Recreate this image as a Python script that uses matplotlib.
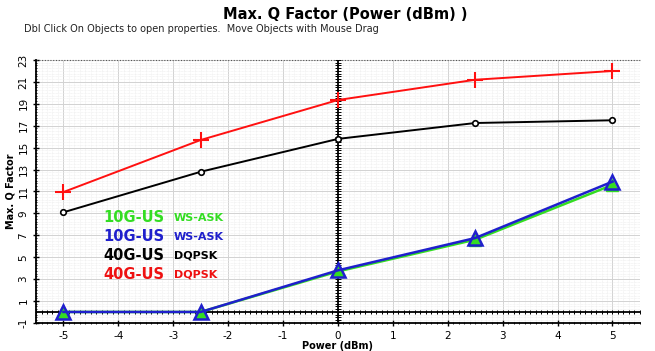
import numpy as np
import matplotlib.pyplot as plt

plt.rcParams["axes.unicode_minus"] = False

power = [-5, -2.5, 0, 2.5, 5]
q_10g_green = [0.0, 0.0, 3.7, 6.6, 11.6]
q_10g_blue = [0.0, 0.0, 3.8, 6.75, 11.9]
q_40g_black = [9.1, 12.8, 15.8, 17.25, 17.5]
q_40g_red = [10.95, 15.7, 19.35, 21.2, 22.0]

legend_main = ["10G-US", "10G-US", "40G-US", "40G-US"]
legend_sub = ["WS-ASK", "WS-ASK", "DQPSK", "DQPSK"]
legend_colors = ["#33dd22", "#1f1fcc", "black", "#ee1111"]

xticks = np.arange(-5, 6, 1)
yticks = np.arange(-1, 24, 2)

fig = plt.figure(figsize=(6.55, 3.51), dpi=100)
ax = fig.add_axes([0.055, 0.080, 0.922, 0.749])
ax.set_xlim(-5.5, 5.5)
ax.set_ylim(-1, 23)

# fine background grid
ax.set_xticks(np.arange(-5.5, 5.51, 0.1), minor=True)
ax.set_yticks(np.arange(-1, 23.01, 0.25), minor=True)
ax.set_xticks(xticks)
ax.set_yticks(yticks)
ax.grid(which="minor", color="#ececec", lw=0.5, ls=(0, (1, 1)))
ax.grid(which="major", color="#d2d2d2", lw=0.7)
ax.set_axisbelow(True)

ax.tick_params(axis="both", which="major", length=4, width=1, labelsize=7.5, direction="inout")
ax.tick_params(axis="both", which="minor", length=2, width=0.6, direction="inout")
ax.tick_params(axis="x", pad=4)
plt.setp(ax.get_yticklabels(), rotation=90, va="center")

for side in ["top", "right"]:
    ax.spines[side].set_visible(False)
ax.spines["left"].set_linewidth(1.3)
ax.spines["bottom"].set_linewidth(1.3)
ax.plot([-5.5, 5.5], [23, 23], color="#555555", lw=0.8, ls=(0, (1, 1.5)), clip_on=False)

# zero axes with ticks
ax.axhline(0, color="black", lw=1.3, zorder=2)
ax.axvline(0, color="black", lw=1.3, zorder=2)
xm = np.arange(-5.5, 5.51, 0.1)
ax.plot(xm, np.zeros_like(xm), ls="none", marker="|", ms=3.5, mew=0.7, color="black", zorder=2)
ym = np.arange(-1, 23.01, 0.25)
ax.plot(np.zeros_like(ym), ym, ls="none", marker="_", ms=5, mew=0.7, color="black", zorder=2)

ax.plot(power, q_40g_red, color="#ff1010", lw=1.4, marker="+", ms=11, mew=1.5, zorder=4)
ax.plot(power, q_40g_black, color="black", lw=1.4, marker="o", ms=4, mfc="white", mew=1.2, zorder=4)
ax.plot(power, q_10g_green, color="#33dd22", lw=1.8, marker="^", ms=9, mfc="#33dd22", mec="#33dd22", zorder=4)
ax.plot(power, q_10g_blue, color="#1f1fcc", lw=1.8, marker="^", ms=10, mfc="none", mec="#1f1fcc", mew=1.8, zorder=5)

rows = [0.40, 0.327, 0.255, 0.183]
for main, sub, c, y in zip(legend_main, legend_sub, legend_colors, rows):
    ax.text(0.111, y, main, transform=ax.transAxes, color=c, fontsize=10.5, fontweight="bold", va="center")
    ax.text(0.228, y, sub, transform=ax.transAxes, color=c, fontsize=8, fontweight="bold", va="center")

ax.set_xlabel("Power (dBm)", fontsize=7, fontweight="bold", labelpad=0)
ax.set_ylabel("Max. Q Factor", fontsize=7, fontweight="bold", labelpad=2)

fig.text(0.527, 0.96, "Max. Q Factor (Power (dBm) )", ha="center", va="center", fontsize=10.5, fontweight="bold")
fig.text(0.037, 0.918, "Dbl Click On Objects to open properties.  Move Objects with Mouse Drag",
         ha="left", va="center", fontsize=7, color="#222222")

fig.savefig("out.png", dpi=100)
